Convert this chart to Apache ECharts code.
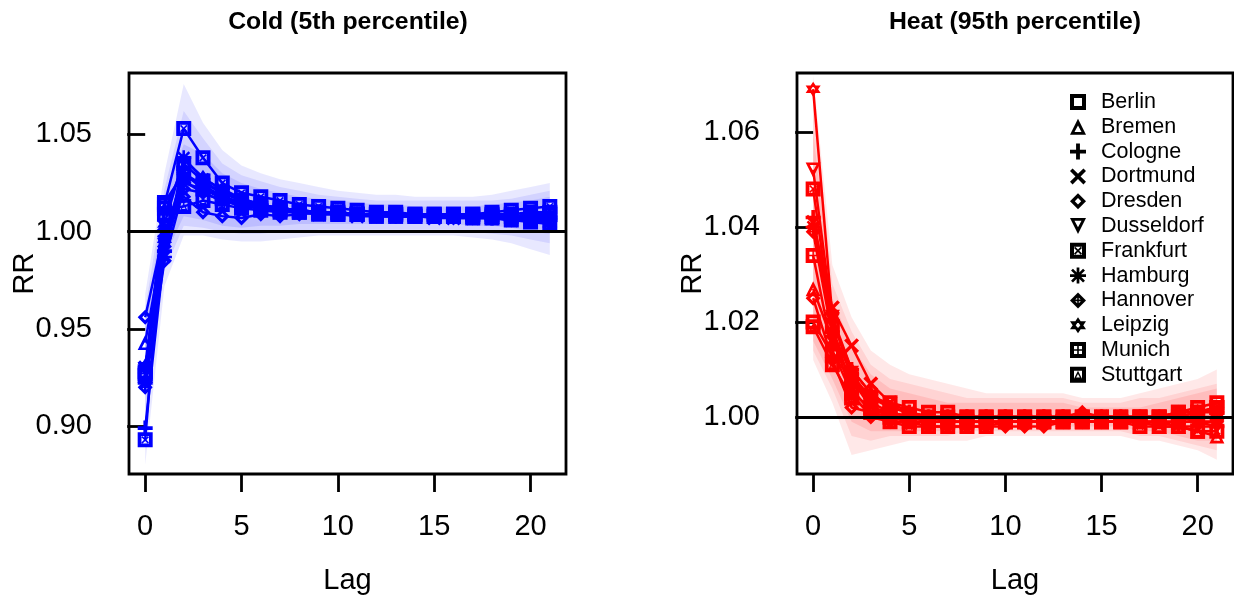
<!DOCTYPE html>
<html><head><meta charset="utf-8">
<script src="https://cdn.jsdelivr.net/npm/echarts@6/dist/echarts.min.js"></script>
<style>html,body{margin:0;padding:0;background:#fff}#c{width:1234px;height:601px}</style>
</head><body><div id="c"></div>
<script>
// ---------- data ----------
const lags = [0,1,2,3,4,5,6,7,8,9,10,11,12,13,14,15,16,17,18,19,20,21];
const cities = ['Berlin','Bremen','Cologne','Dortmund','Dresden','Dusseldorf','Frankfurt','Hamburg','Hannover','Leipzig','Munich','Stuttgart'];
const lagTicks = [0,5,10,15,20];
const coldTicks = [0.90,0.95,1.00,1.05];
const heatTicks = [1.00,1.02,1.04,1.06];
const titleCold = 'Cold (5th percentile)';
const titleHeat = 'Heat (95th percentile)';

// Cold (5th percentile) RR by lag
const coldBerlin     = [0.928,1.009,1.035,1.026,1.020,1.016,1.014,1.012,1.011,1.010,1.010,1.009,1.009,1.009,1.009,1.009,1.009,1.009,1.009,1.009,1.010,1.010];
const coldBremen     = [0.943,0.998,1.030,1.024,1.018,1.015,1.013,1.012,1.011,1.010,1.009,1.009,1.008,1.008,1.008,1.008,1.008,1.008,1.008,1.008,1.008,1.009];
const coldCologne    = [0.899,0.990,1.025,1.022,1.018,1.015,1.013,1.012,1.011,1.010,1.010,1.009,1.009,1.009,1.008,1.008,1.008,1.008,1.007,1.007,1.006,1.006];
const coldDortmund   = [0.930,0.995,1.028,1.025,1.020,1.016,1.013,1.011,1.010,1.009,1.009,1.008,1.008,1.008,1.008,1.007,1.007,1.007,1.007,1.006,1.006,1.005];
const coldDresden    = [0.956,1.001,1.018,1.010,1.008,1.007,1.009,1.008,1.009,1.010,1.009,1.009,1.008,1.008,1.008,1.008,1.007,1.007,1.007,1.006,1.006,1.005];
const coldDusseldorf = [0.929,0.993,1.026,1.020,1.016,1.014,1.012,1.011,1.010,1.010,1.009,1.009,1.009,1.008,1.008,1.008,1.008,1.008,1.008,1.008,1.009,1.009];
const coldFrankfurt  = [0.893,1.014,1.053,1.038,1.025,1.020,1.018,1.016,1.014,1.013,1.012,1.011,1.010,1.010,1.009,1.009,1.009,1.009,1.010,1.011,1.012,1.013];
const coldHamburg    = [0.922,0.987,1.038,1.027,1.022,1.017,1.014,1.012,1.011,1.010,1.010,1.009,1.009,1.008,1.008,1.008,1.008,1.008,1.008,1.008,1.008,1.008];
const coldHannover   = [0.920,0.985,1.022,1.020,1.016,1.013,1.012,1.011,1.010,1.010,1.009,1.009,1.009,1.008,1.008,1.008,1.008,1.008,1.008,1.008,1.007,1.007];
const coldLeipzig    = [0.931,1.004,1.037,1.028,1.021,1.017,1.014,1.012,1.011,1.010,1.010,1.009,1.009,1.009,1.008,1.008,1.008,1.008,1.008,1.008,1.007,1.007];
const coldMunich     = [0.927,1.015,1.030,1.022,1.017,1.014,1.012,1.011,1.010,1.010,1.009,1.009,1.009,1.009,1.008,1.008,1.008,1.008,1.008,1.008,1.008,1.009];
const coldStuttgart  = [0.926,1.012,1.013,1.016,1.014,1.012,1.011,1.010,1.010,1.009,1.009,1.009,1.008,1.008,1.008,1.008,1.008,1.007,1.007,1.006,1.005,1.004];

// Heat (95th percentile) RR by lag
const heatBerlin     = [1.020,1.013,1.008,1.004,1.003,1.002,1.001,1.001,1.000,1.000,1.000,1.000,1.000,1.000,1.000,1.000,1.000,1.000,1.000,1.001,1.001,1.002];
const heatBremen     = [1.027,1.016,1.008,1.002,1.000,0.999,0.999,0.999,0.999,0.999,0.999,0.999,0.999,0.999,0.999,0.999,0.999,0.999,0.998,0.998,0.997,0.996];
const heatCologne    = [1.042,1.020,1.010,1.005,1.002,1.001,1.000,1.000,1.000,1.000,1.000,1.000,1.000,1.000,1.000,1.000,1.000,0.999,0.999,0.999,0.999,0.998];
const heatDortmund   = [1.041,1.023,1.015,1.007,1.003,1.001,1.000,0.999,0.999,0.999,0.999,0.999,0.999,0.999,1.000,1.000,1.000,1.000,1.000,1.000,0.999,0.999];
const heatDresden    = [1.025,1.012,1.002,1.001,1.001,1.000,1.000,1.000,1.000,1.000,1.000,1.000,1.000,1.000,1.001,1.000,1.000,1.000,1.000,1.001,1.001,1.002];
const heatDusseldorf = [1.052,1.021,1.008,1.003,1.001,1.000,0.999,0.999,0.999,0.999,0.999,0.999,0.999,0.999,0.999,0.999,0.999,0.999,0.999,0.998,0.998,0.998];
const heatFrankfurt  = [1.048,1.019,1.006,1.001,0.999,0.998,0.998,0.998,0.998,0.998,0.999,0.999,0.999,0.999,0.999,0.999,0.999,0.998,0.998,0.998,0.997,0.997];
const heatHamburg    = [1.040,1.018,1.009,1.004,1.002,1.001,1.000,1.000,1.000,1.000,1.000,1.000,1.000,1.000,1.000,1.000,1.000,1.000,1.000,1.000,1.001,1.001];
const heatHannover   = [1.039,1.017,1.005,1.000,0.999,0.999,0.998,0.998,0.998,0.998,0.998,0.998,0.998,0.999,0.999,0.999,0.999,0.999,0.999,0.999,0.999,0.999];
const heatLeipzig    = [1.069,1.021,1.010,1.005,1.002,1.001,1.000,1.000,1.000,1.000,1.000,1.000,1.000,1.000,1.000,1.000,1.000,1.000,1.000,1.000,1.000,1.000];
const heatMunich     = [1.034,1.014,1.005,1.002,1.001,1.000,1.000,1.000,1.000,1.000,1.000,1.000,1.000,1.000,1.000,1.000,1.000,1.000,1.000,1.000,1.001,1.002];
const heatStuttgart  = [1.019,1.011,1.004,1.001,1.000,0.999,0.999,0.999,0.999,0.999,0.999,0.999,0.999,0.999,0.999,0.999,0.999,1.000,1.000,1.001,1.002,1.003];

// Confidence envelopes (outer / middle / inner shading layers)
const coldOuterLo = [0.880,0.972,0.998,0.998,0.996,0.995,0.995,0.996,0.997,0.998,0.998,0.998,0.998,0.998,0.998,0.998,0.998,0.997,0.996,0.994,0.991,0.988];
const coldOuterHi = [0.968,1.030,1.076,1.056,1.042,1.034,1.030,1.027,1.025,1.023,1.021,1.020,1.019,1.019,1.018,1.018,1.018,1.018,1.019,1.021,1.023,1.025];
const coldMidLo   = [0.900,0.980,1.003,1.002,1.000,0.999,0.999,1.000,1.000,1.001,1.001,1.001,1.001,1.001,1.001,1.001,1.001,1.000,0.999,0.998,0.996,0.994];
const coldMidHi   = [0.960,1.022,1.062,1.048,1.035,1.029,1.026,1.023,1.021,1.019,1.018,1.017,1.016,1.016,1.016,1.016,1.016,1.016,1.016,1.017,1.019,1.021];
const coldInLo    = [0.915,0.987,1.008,1.006,1.003,1.002,1.003,1.003,1.004,1.004,1.004,1.004,1.004,1.004,1.004,1.004,1.004,1.003,1.003,1.002,1.000,0.999];
const coldInHi    = [0.950,1.018,1.045,1.040,1.030,1.025,1.022,1.020,1.018,1.017,1.016,1.015,1.014,1.014,1.013,1.013,1.013,1.013,1.014,1.015,1.016,1.018];
const heatOuterLo = [1.012,1.003,0.992,0.993,0.994,0.995,0.995,0.995,0.995,0.996,0.996,0.996,0.996,0.996,0.996,0.996,0.996,0.995,0.995,0.994,0.993,0.991];
const heatOuterHi = [1.072,1.032,1.021,1.014,1.011,1.009,1.008,1.007,1.006,1.005,1.005,1.005,1.005,1.005,1.004,1.004,1.004,1.005,1.006,1.007,1.008,1.010];
const heatMidLo   = [1.014,1.006,0.996,0.995,0.996,0.996,0.996,0.996,0.997,0.997,0.997,0.997,0.997,0.997,0.997,0.997,0.997,0.996,0.996,0.995,0.994,0.993];
const heatMidHi   = [1.068,1.028,1.018,1.011,1.008,1.007,1.006,1.005,1.004,1.004,1.004,1.004,1.004,1.004,1.003,1.003,1.003,1.004,1.004,1.005,1.006,1.007];
const heatInLo    = [1.016,1.008,0.999,0.997,0.997,0.997,0.997,0.997,0.998,0.998,0.998,0.998,0.998,0.998,0.998,0.998,0.998,0.997,0.997,0.996,0.995,0.995];
const heatInHi    = [1.060,1.025,1.015,1.009,1.006,1.005,1.004,1.003,1.003,1.003,1.003,1.003,1.003,1.003,1.002,1.002,1.002,1.002,1.003,1.004,1.005,1.006];

const coldSeriesData = [coldBerlin,coldBremen,coldCologne,coldDortmund,coldDresden,coldDusseldorf,coldFrankfurt,coldHamburg,coldHannover,coldLeipzig,coldMunich,coldStuttgart];
const heatSeriesData = [heatBerlin,heatBremen,heatCologne,heatDortmund,heatDresden,heatDusseldorf,heatFrankfurt,heatHamburg,heatHannover,heatLeipzig,heatMunich,heatStuttgart];

// ---------- marker shapes (R pch 0,2,3,4,5,6,7,8,9,11,12,14), bold strokes ----------
const SQ = 'M0 0L20 0L20 20L0 20ZM5 5L5 15L15 15L15 5Z';
const symbols = [
  'path://' + SQ,
  'path://M10 0L20 20L0 20ZM10 8.5L5.6 16.5L14.4 16.5Z',
  'path://M7.6 0L12.4 0L12.4 7.6L20 7.6L20 12.4L12.4 12.4L12.4 20L7.6 20L7.6 12.4L0 12.4L0 7.6L7.6 7.6Z',
  'path://M0 3.2L3.2 0L10 6.8L16.8 0L20 3.2L13.2 10L20 16.8L16.8 20L10 13.2L3.2 20L0 16.8L6.8 10Z',
  'path://M10 0L20 10L10 20L0 10ZM10 6L6 10L10 14L14 10Z',
  'path://M0 0L20 0L10 20ZM5.6 3.5L10 11.5L14.4 3.5Z',
  'path://' + SQ + 'M5 6.5L6.5 5L10 8.5L13.5 5L15 6.5L11.5 10L15 13.5L13.5 15L10 11.5L6.5 15L5 13.5L8.5 10Z',
  'path://M8.3 0L11.7 0L11.7 8.3L20 8.3L20 11.7L11.7 11.7L11.7 20L8.3 20L8.3 11.7L0 11.7L0 8.3L8.3 8.3ZM1.3 3.7L3.7 1.3L10 7.6L16.3 1.3L18.7 3.7L12.4 10L18.7 16.3L16.3 18.7L10 12.4L3.7 18.7L1.3 16.3L7.6 10Z',
  'path://M10 0L20 10L10 20L0 10ZM10 5.5L5.5 10L10 14.5L14.5 10ZM9 5L11 5L11 9L15 9L15 11L11 11L11 15L9 15L9 11L5 11L5 9L9 9Z',
  'path://M10 0L20 15L0 15ZM10 6L5.3 12.8L14.7 12.8ZM0 5L20 5L10 20ZM5.3 7.2L10 14L14.7 7.2Z',
  'path://' + SQ + 'M9 5L11 5L11 9L15 9L15 11L11 11L11 15L9 15L9 11L5 11L5 9L9 9Z',
  'path://' + SQ + 'M10 5L15 15L5 15ZM10 9L7.6 13.4L12.4 13.4Z'
];

// ---------- chart ----------
const FONT = '"Liberation Sans", Arial, Helvetica, sans-serif';
const BLUE = '#0000FF', RED = '#FF0000';

function bandSeries(lo, hi, color, gi) {
  return {
    type: 'custom', xAxisIndex: gi, yAxisIndex: gi, silent: true, z: 1,
    data: lags.map((l, i) => [l, lo[i], hi[i]]),
    encode: { x: 0, y: [1, 2] },
    renderItem: function (params, api) {
      if (params.dataIndex !== 0) return;
      const pts = [];
      for (let i = 0; i < lags.length; i++) pts.push(api.coord([lags[i], hi[i]]));
      for (let i = lags.length - 1; i >= 0; i--) pts.push(api.coord([lags[i], lo[i]]));
      return { type: 'polygon', shape: { points: pts }, style: { fill: color } };
    }
  };
}

function citySeries(vals, ci, color, gi) {
  const s = {
    type: 'line', name: cities[ci], xAxisIndex: gi, yAxisIndex: gi, z: 3,
    data: lags.map((l, i) => [l, vals[i]]),
    symbol: symbols[ci], symbolSize: 15, showAllSymbol: true,
    lineStyle: { color: color, width: 2.5 },
    itemStyle: { color: color, borderWidth: 0 },
    emphasis: { disabled: true }
  };
  if (ci === 0) {
    s.markLine = {
      silent: true, symbol: 'none', z: 10, animation: false,
      label: { show: false },
      lineStyle: { color: '#000', width: 2.8, type: 'solid' },
      data: [{ yAxis: 1 }]
    };
  }
  return s;
}

function xAxisDef(gi) {
  return {
    type: 'value', gridIndex: gi, min: -0.84, max: 21.84,
    name: 'Lag', nameLocation: 'middle', nameGap: 92,
    nameTextStyle: { fontSize: 29, color: '#000', fontFamily: FONT },
    axisLine: { show: false },
    axisTick: { show: true, length: 18, customValues: lagTicks, lineStyle: { color: '#000', width: 2.8 } },
    axisLabel: { customValues: lagTicks, fontSize: 29, color: '#000', fontFamily: FONT, margin: 38 },
    splitLine: { show: false }
  };
}
function yAxisDef(gi, min, max, ticks) {
  return {
    type: 'value', gridIndex: gi, min: min, max: max,
    name: 'RR', nameLocation: 'middle', nameGap: 90, nameRotate: 90, nameMoveOverlap: false,
    nameTextStyle: { fontSize: 29, color: '#000', fontFamily: FONT },
    axisLine: { show: false },
    axisTick: { show: true, length: 18, customValues: ticks, lineStyle: { color: '#000', width: 2.8 } },
    axisLabel: { customValues: ticks, fontSize: 29, color: '#000', fontFamily: FONT, margin: 37,
                 formatter: v => v.toFixed(2) },
    splitLine: { show: false }
  };
}

const series = [
  bandSeries(coldOuterLo, coldOuterHi, 'rgba(0,0,255,0.09)', 0),
  bandSeries(coldMidLo, coldMidHi, 'rgba(0,0,255,0.09)', 0),
  bandSeries(coldInLo, coldInHi, 'rgba(0,0,255,0.10)', 0),
  bandSeries(heatOuterLo, heatOuterHi, 'rgba(255,0,0,0.09)', 1),
  bandSeries(heatMidLo, heatMidHi, 'rgba(255,0,0,0.09)', 1),
  bandSeries(heatInLo, heatInHi, 'rgba(255,0,0,0.10)', 1)
];
coldSeriesData.forEach((v, i) => series.push(citySeries(v, i, BLUE, 0)));
heatSeriesData.forEach((v, i) => series.push(citySeries(v, i, RED, 1)));

const chart = echarts.init(document.getElementById('c'), null, { renderer: 'canvas' });
chart.setOption({
  animation: false,
  backgroundColor: '#fff',
  grid: [
    { left: 129, top: 73, width: 437, height: 401, show: true, borderColor: '#000', borderWidth: 2.8, backgroundColor: 'transparent' },
    { left: 797, top: 73, width: 436, height: 401, show: true, borderColor: '#000', borderWidth: 2.8, backgroundColor: 'transparent' }
  ],
  xAxis: [xAxisDef(0), xAxisDef(1)],
  yAxis: [yAxisDef(0, 0.8754, 1.0816, coldTicks), yAxisDef(1, 0.988, 1.0724, heatTicks)],
  legend: {
    orient: 'vertical', left: 1065, top: 86,
    itemWidth: 36, itemHeight: 16, itemGap: 2.8, selectedMode: false,
    textStyle: { fontSize: 21.5, lineHeight: 22, color: '#000', fontFamily: FONT },
    data: cities.map((c, i) => ({ name: c, icon: symbols[i], itemStyle: { color: '#000', borderWidth: 0 } }))
  },
  graphic: [
    { type: 'text', x: 348, y: 22, style: { text: titleCold, textAlign: 'center', textVerticalAlign: 'middle', font: 'bold 24.8px ' + FONT, fill: '#000' } },
    { type: 'text', x: 1015, y: 22, style: { text: titleHeat, textAlign: 'center', textVerticalAlign: 'middle', font: 'bold 24.8px ' + FONT, fill: '#000' } }
  ],
  series: series
});
</script>
</body></html>
